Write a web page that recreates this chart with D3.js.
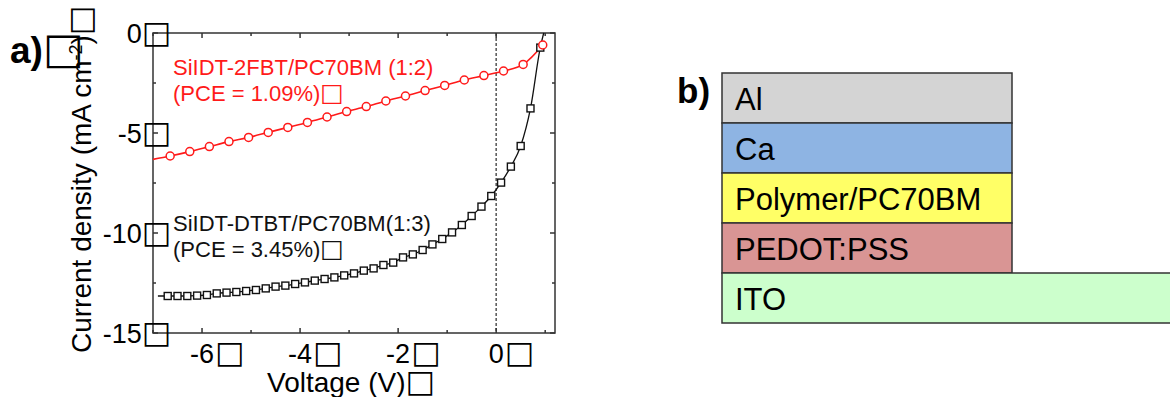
<!DOCTYPE html>
<html>
<head>
<meta charset="utf-8">
<script src="https://cdn.jsdelivr.net/npm/d3@7"></script>
<style>
  html, body { margin: 0; padding: 0; background: #fff; }
  svg { display: block; font-family: "Liberation Sans", Arial, sans-serif; }
  .box { font-family: "DejaVu Sans"; font-weight: bold; }
</style>
</head>
<body>
<div id="chart"></div>
<script>
// a) J-V curves
const redVolt = [-6.65, -6.25, -5.85, -5.45, -5.05, -4.65, -4.25, -3.85, -3.45, -3.05,
  -2.65, -2.25, -1.85, -1.45, -1.05, -0.65, -0.25, 0.15, 0.55, 0.95];
const redCurrent = [-6.15, -5.93, -5.68, -5.43, -5.22, -4.97, -4.72, -4.47, -4.2, -3.93,
  -3.68, -3.4, -3.15, -2.88, -2.62, -2.35, -2.13, -1.9, -1.57, -0.6];
const redEnds = [[-7.0, -6.32], [1.0, -0.45]];

const blackVolt = [-6.7, -6.5, -6.3, -6.1, -5.9, -5.7, -5.5, -5.3, -5.1, -4.9,
  -4.7, -4.5, -4.3, -4.1, -3.9, -3.7, -3.5, -3.3, -3.1, -2.9,
  -2.7, -2.5, -2.3, -2.1, -1.9, -1.7, -1.5, -1.3, -1.1, -0.9,
  -0.7, -0.5, -0.3, -0.1, 0.1, 0.3, 0.5, 0.7, 0.9];
const blackCurrent = [-13.15, -13.15, -13.15, -13.13, -13.1, -13.02, -12.98, -12.95, -12.9, -12.85,
  -12.77, -12.68, -12.63, -12.55, -12.47, -12.38, -12.3, -12.22, -12.12, -12.02,
  -11.88, -11.77, -11.6, -11.48, -11.22, -11.07, -10.85, -10.57, -10.3, -9.97,
  -9.6, -9.15, -8.68, -8.15, -7.48, -6.68, -5.65, -3.77, -0.73];
const blackEnds = [[-6.9, -13.15], [0.97, 0.0]];

const xTicks = [-6, -4, -2, 0];
const xMinor = [-7, -5, -3, -1, 1];
const yTicks = [0, -5, -10, -15];
const yMinor = [-2.5, -7.5, -12.5];

const redLabel = ['SiIDT-2FBT/PC70BM (1:2)', '(PCE = 1.09%)'];
const blackLabel = ['SiIDT-DTBT/PC70BM(1:3)', '(PCE = 3.45%)'];

// b) device stack, top to bottom
const layerNames = ['Al', 'Ca', 'Polymer/PC70BM', 'PEDOT:PSS', 'ITO'];
const layerColors = ['#d4d4d4', '#8eb4e3', '#ffff66', '#d99594', '#ccffcc'];
const layerWide = [false, false, false, false, true];

const BOX = '\u25A1';

var svg = d3.select('#chart').append('svg')
  .attr('width', 1170)
  .attr('height', 397);

// ---------- panel a ----------
var x = d3.scaleLinear().domain([-7, 1.2]).range([153, 555]);
var y = d3.scaleLinear().domain([-15, 0]).range([333, 33]);

var g = svg.append('g');

// dashed line at V = 0
g.append('line')
  .attr('x1', x(0)).attr('x2', x(0))
  .attr('y1', y(0)).attr('y2', y(-15))
  .style('stroke', '#555')
  .style('stroke-width', 1.5)
  .style('stroke-dasharray', '3,2');

// frame
g.append('rect')
  .attr('x', x(-7)).attr('y', y(0))
  .attr('width', x(1.2) - x(-7))
  .attr('height', y(-15) - y(0))
  .style('fill', 'none')
  .style('stroke', '#333')
  .style('stroke-width', 1.5);

// ticks, pointing inwards on all four sides
function xTickMarks(vals, len) {
  vals.forEach(function (v) {
    g.append('line').attr('x1', x(v)).attr('x2', x(v))
      .attr('y1', y(-15)).attr('y2', y(-15) - len)
      .style('stroke', '#333').style('stroke-width', 1.5);
    g.append('line').attr('x1', x(v)).attr('x2', x(v))
      .attr('y1', y(0)).attr('y2', y(0) + len)
      .style('stroke', '#333').style('stroke-width', 1.5);
  });
}
function yTickMarks(vals, len) {
  vals.forEach(function (v) {
    g.append('line').attr('x1', x(-7)).attr('x2', x(-7) + len)
      .attr('y1', y(v)).attr('y2', y(v))
      .style('stroke', '#333').style('stroke-width', 1.5);
    g.append('line').attr('x1', x(1.2)).attr('x2', x(1.2) - len)
      .attr('y1', y(v)).attr('y2', y(v))
      .style('stroke', '#333').style('stroke-width', 1.5);
  });
}
xTickMarks(xTicks, 5);
xTickMarks(xMinor, 3);
yTickMarks(yTicks, 5);
yTickMarks(yMinor, 3);

// curves
var line = d3.line()
  .x(function (d) { return x(d[0]); })
  .y(function (d) { return y(d[1]); })
  .curve(d3.curveMonotoneX);

var redPts = redVolt.map(function (v, i) { return [v, redCurrent[i]]; });
var blackPts = blackVolt.map(function (v, i) { return [v, blackCurrent[i]]; });

g.append('path')
  .attr('d', line([redEnds[0]].concat(redPts, [redEnds[1]])))
  .style('fill', 'none')
  .style('stroke', '#ff1a1a')
  .style('stroke-width', 1.6);

g.append('path')
  .attr('d', line([blackEnds[0]].concat(blackPts, [blackEnds[1]])))
  .style('fill', 'none')
  .style('stroke', '#111')
  .style('stroke-width', 1.3);

g.selectAll('.sq').data(blackPts).enter().append('rect')
  .attr('class', 'sq')
  .attr('x', function (d) { return x(d[0]) - 3.5; })
  .attr('y', function (d) { return y(d[1]) - 3.5; })
  .attr('width', 7).attr('height', 7)
  .style('fill', '#fff')
  .style('stroke', '#111')
  .style('stroke-width', 1.4);

g.selectAll('.circ').data(redPts).enter().append('circle')
  .attr('class', 'circ')
  .attr('cx', function (d) { return x(d[0]); })
  .attr('cy', function (d) { return y(d[1]); })
  .attr('r', 4)
  .style('fill', '#fff')
  .style('stroke', '#ff1a1a')
  .style('stroke-width', 1.5);

// y tick labels: number then a box glyph sitting on the axis
yTicks.forEach(function (v) {
  var t = g.append('text')
    .attr('x', 171)
    .attr('y', y(v) + 10)
    .attr('text-anchor', 'end')
    .style('font-size', '27px');
  t.append('tspan').text(String(v));
  t.append('tspan').attr('class', 'box').style('font-size', '31px').text(BOX);
});

// x tick labels: number centred on tick, box glyph after it
xTicks.forEach(function (v) {
  var t = g.append('text')
    .attr('x', x(v))
    .attr('y', 363)
    .attr('text-anchor', 'middle')
    .style('font-size', '27px')
    .text(String(v));
  var w = t.node().getComputedTextLength();
  g.append('text')
    .attr('class', 'box')
    .attr('x', x(v) + w / 2 + 1)
    .attr('y', 363)
    .style('font-size', '31px')
    .text(BOX);
});

// axis titles
var xt = g.append('text')
  .attr('x', 267).attr('y', 392)
  .style('font-size', '28px');
xt.append('tspan').text('Voltage (V)');
xt.append('tspan').attr('class', 'box').style('font-size', '31px').text(BOX);

var yt = g.append('text')
  .attr('transform', 'translate(91,353) rotate(-90)')
  .style('font-size', '28px');
yt.append('tspan').text('Current density (mA cm');
yt.append('tspan').attr('dy', -9).style('font-size', '18px').text('-2');
yt.append('tspan').attr('dy', 9).text(')');
yt.append('tspan').attr('class', 'box').style('font-size', '31px').text(BOX);

// series labels
function seriesLabel(lines, top, colour) {
  lines.forEach(function (s, i) {
    var t = g.append('text')
      .attr('x', 173)
      .attr('y', top + i * 26)
      .style('font-size', '22px')
      .style('fill', colour);
    t.append('tspan').text(s);
    if (i === 1) t.append('tspan').attr('class', 'box').style('font-size', '25px').text(BOX);
  });
}
seriesLabel(redLabel, 75, '#ff1a1a');
seriesLabel(blackLabel, 231, '#111');

// panel letter
var pa = svg.append('text')
  .attr('x', 10).attr('y', 63)
  .style('font-size', '37px')
  .style('font-weight', 'bold');
pa.append('tspan').text('a)');
pa.append('tspan').attr('class', 'box').style('font-size', '43px').text(BOX);

// ---------- panel b ----------
var ly = d3.scaleBand().domain(layerNames).range([73, 323]);

var layers = svg.append('g');
layers.selectAll('rect').data(layerNames).enter().append('rect')
  .attr('x', 722)
  .attr('y', function (d) { return ly(d); })
  .attr('width', function (d, i) { return layerWide[i] ? 460 : 290; })
  .attr('height', ly.bandwidth())
  .style('fill', function (d, i) { return layerColors[i]; })
  .style('stroke', '#333')
  .style('stroke-width', 1.5);

layers.selectAll('text').data(layerNames).enter().append('text')
  .attr('x', 735)
  .attr('y', function (d) { return ly(d) + 37; })
  .style('font-size', '31px')
  .style('fill', '#000')
  .text(function (d) { return d; });

svg.append('text')
  .attr('x', 677).attr('y', 103)
  .style('font-size', '35px')
  .style('font-weight', 'bold')
  .text('b)');
</script>
</body>
</html>
